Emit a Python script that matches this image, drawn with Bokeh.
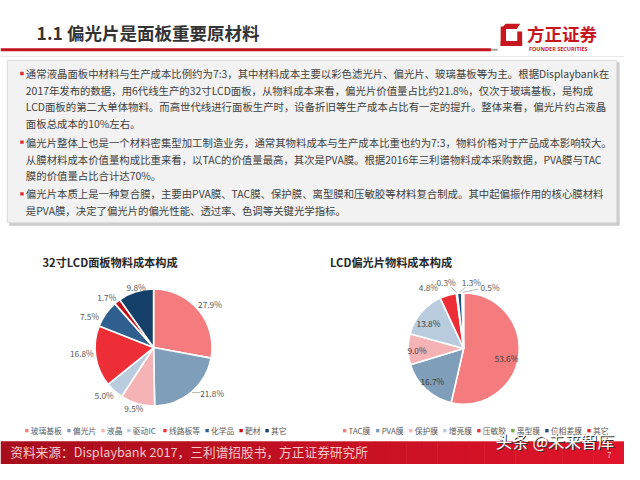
import numpy as np
from bokeh.plotting import figure
from bokeh.models import Range1d, ColumnDataSource
from bokeh.core.properties import value
from bokeh.embed import file_html
from bokeh.resources import INLINE

# ---------------- data ----------------
page_title = "1.1 偏光片是面板重要原材料"
body_lines = [
    "通常液晶面板中材料与生产成本比例约为7:3，其中材料成本主要以彩色滤光片、偏光片、玻璃基板等为主。根据Displaybank在",
    "2017年发布的数据，用6代线生产的32寸LCD面板，从物料成本来看，偏光片价值量占比约21.8%，仅次于玻璃基板，是构成",
    "LCD面板的第二大单体物料。而高世代线进行面板生产时，设备折旧等生产成本占比有一定的提升。整体来看，偏光片约占液晶",
    "面板总成本的10%左右。",
    "偏光片整体上也是一个材料密集型加工制造业务，通常其物料成本与生产成本比重也约为7:3，物料价格对于产品成本影响较大。",
    "从膜材料成本价值量构成比重来看，以TAC的价值量最高，其次是PVA膜。根据2016年三利谱物料成本采购数据，PVA膜与TAC",
    "膜的价值量占比合计达70%。",
    "偏光片本质上是一种复合膜，主要由PVA膜、TAC膜、保护膜、离型膜和压敏胶等材料复合制成。其中起偏振作用的核心膜材料",
    "是PVA膜，决定了偏光片的偏光性能、透过率、色调等关键光学指标。",
]
bullet_first = [True, False, False, False, True, False, False, True, False]

pie1_title = "32寸LCD面板物料成本构成"
pie1_labels = ["玻璃基板", "偏光片", "液晶", "驱动IC", "线路板等", "化学品", "靶材", "其它"]
pie1_values = [27.9, 21.8, 9.5, 5.0, 16.8, 7.5, 1.7, 9.8]

pie2_title = "LCD偏光片物料成本构成"
pie2_labels = ["TAC膜", "PVA膜", "保护膜", "增亮膜", "压敏胶", "离型膜", "位相差膜", "其它"]
pie2_values = [53.6, 16.7, 9.0, 13.8, 4.8, 0.3, 1.3, 0.5]

source_note = "资料来源：Displaybank 2017，三利谱招股书，方正证券研究所"
watermark = "头条 @未来智库"
page_no = "7"

# ---------------- styles / layout ----------------
pie1_colors = ["#F47B7E", "#7F9EB9", "#F6B3B5", "#B9CCDD", "#EE2E37", "#2F5F8E", "#C50F1A", "#133F68"]
pie2_colors = ["#F47B7E", "#7F9EB9", "#F6B3B5", "#B9CCDD", "#EE2E37", "#70AD47", "#1F4E79", "#E8262E"]
pie1_lab_f = [1.22, 1.27, 1.09, 1.18, 1.23, 1.22, 1.18, 1.09]
pie1_lab_shift = [2, -11.7, 2, 3.6, 4, -9, -4.4, 1.7]
pie1_leader = [False, True, False, False, False, False, False, False]
pie2_lab_f = [0.79, 0.81, 0.84, 0.78, 1.29, 1.25, 1.22, 1.22]
pie2_lab_shift = [6.3, 1, -1.7, -4.5, -13.2, -7.6, 10.7, 23.8]
pie2_leader = [False, False, False, False, False, True, True, True]

FONT = value("Noto Sans CJK SC")
W, H = 624, 464


def Y(y):
    return 480 - y


p = figure(width=W, height=H, x_range=Range1d(0, 640), y_range=Range1d(0, 480),
           output_backend="svg", toolbar_location=None, min_border=0,
           x_axis_type=None, y_axis_type=None)
p.grid.visible = False
p.outline_line_color = None
p.background_fill_color = "white"
p.border_fill_color = "white"

# ---------- header ----------
p.text(x=[37], y=[Y(33)], text=[page_title], text_font=FONT, text_font_size="17.5px",
       text_font_style="bold", text_color="#333333", text_baseline="middle", text_align="left")
p.quad(left=[0], right=[503], top=[Y(49.5)], bottom=[Y(52.5)], fill_color="#C3131F", line_color=None)
p.quad(left=[503], right=[510], top=[Y(50)], bottom=[Y(52)], fill_color="#A6A6A6", line_color=None)
p.segment(x0=[0], x1=[640], y0=[Y(58)], y1=[Y(58)], line_color="#E8E8E8", line_width=1)

# logo
logo_red = "#C8161E"
p.quad(left=[513], right=[518.5], top=[Y(27)], bottom=[Y(47)], fill_color=logo_red, line_color=None)
p.patch(x=[514, 518, 533, 529.5, 514], y=[Y(29), Y(24), Y(24), Y(29.5), Y(29.5)],
        fill_color=logo_red, line_color=None)
p.quad(left=[513], right=[535], top=[Y(42)], bottom=[Y(47)], fill_color=logo_red, line_color=None)
p.quad(left=[530], right=[535], top=[Y(32)], bottom=[Y(47)], fill_color=logo_red, line_color=None)
p.text(x=[540], y=[Y(34)], text=["方正证券"], text_font=FONT, text_font_size="17.5px",
       text_font_style="bold", text_color=logo_red, text_baseline="middle")
p.text(x=[542], y=[Y(50)], text=["FOUNDER SECURITIES"], text_font=value("Open Sans"),
       text_font_size="5.5px", text_font_style="bold", text_color=logo_red, text_baseline="middle")

# ---------- text box ----------
p.quad(left=[9], right=[635], top=[Y(64)], bottom=[Y(233)], fill_color="#BDBDBD", line_color=None, fill_alpha=0.8)
p.quad(left=[7], right=[632], top=[Y(62)], bottom=[Y(230)], fill_color="#F2F2F2", line_color="#DADADA")

line_y = [75.5, 93, 110, 127.5, 146.5, 164, 181, 200, 217]
p.text(x=[26] * len(body_lines), y=[Y(v) for v in line_y], text=body_lines, text_font=FONT,
       text_font_size="10.4px", text_color="#404040", text_baseline="middle", text_align="left")
bx = [22 for b in bullet_first if b]
by = [Y(v) for v, b in zip(line_y, bullet_first) if b]
p.scatter(x=bx, y=by, marker="square", size=3.4, fill_color="#E02A32", line_color=None)


# ---------- pies ----------
def draw_pie(cx, cy_ref, R, title, title_x, labels, vals, colors, lab_f, lab_shift, leader,
             inside_color, legend_x0):
    CY = Y(cy_ref)
    v = np.array(vals, dtype=float)
    frac = v / v.sum()
    cum = np.concatenate([[0.0], np.cumsum(frac)])
    t1 = cum[:-1] * 360.0
    t2 = cum[1:] * 360.0
    src = ColumnDataSource(dict(start=np.radians(90 - t2), end=np.radians(90 - t1), color=colors))
    p.wedge(x=cx, y=CY, radius=R, start_angle="start", end_angle="end", fill_color="color",
            line_color="white", line_width=1.6, source=src)
    mid = (t1 + t2) / 2.0
    la = np.radians(mid + np.array(lab_shift))
    rf = R * np.array(lab_f)
    lx = cx + rf * np.sin(la)
    ly = CY + rf * np.cos(la)
    txt = [f"{x:.1f}%" for x in vals]
    tcol = [inside_color if f < 1 else "#595959" for f in lab_f]
    p.text(x=list(lx), y=list(ly), text=txt, text_font=FONT, text_font_size="8.3px",
           text_color=tcol, text_align="center", text_baseline="middle")
    # leader lines
    x0s, y0s, x1s, y1s = [], [], [], []
    for i, on in enumerate(leader):
        if not on:
            continue
        m = np.radians(mid[i])
        ex = cx + (R + 1) * np.sin(m)
        ey = CY + (R + 1) * np.cos(m)
        vx, vy = ex - lx[i], ey - ly[i]
        t = min(12.0 / max(abs(vx), 1e-6), 5.5 / max(abs(vy), 1e-6))
        x0s.append(lx[i] + vx * t)
        y0s.append(ly[i] + vy * t)
        x1s.append(ex)
        y1s.append(ey)
    if x0s:
        p.segment(x0=x0s, y0=y0s, x1=x1s, y1=y1s, line_color="#A6A6A6", line_width=0.8)
    # title
    p.text(x=[title_x], y=[Y(270)], text=[title], text_font=FONT, text_font_size="11.2px",
           text_font_style="bold", text_color="#262626", text_baseline="middle")
    # legend
    xs = []
    x = legend_x0
    for lab in labels:
        xs.append(x)
        w = sum(5.2 if ord(c) < 128 else 8.3 for c in lab)
        x += 5 + w + 5
    p.scatter(x=xs, y=[Y(445)] * len(xs), marker="square", size=3.4, fill_color=colors, line_color=None)
    p.text(x=[v + 4 for v in xs], y=[Y(445)] * len(xs), text=labels, text_font=FONT,
           text_font_size="7.8px", text_color="#595959", text_baseline="middle", text_align="left")


draw_pie(157, 359, 60, pie1_title, 43, pie1_labels, pie1_values, pie1_colors,
         pie1_lab_f, pie1_lab_shift, pie1_leader, "#404040", 27)
draw_pie(475, 360, 57, pie2_title, 338, pie2_labels, pie2_values, pie2_colors,
         pie2_lab_f, pie2_lab_shift, pie2_leader, "#404040", 353)

# ---------- footer ----------
n = 40
edges = np.linspace(0, 640, n + 1)
c0 = np.array([0xA8, 0x0E, 0x1C])
c1 = np.array([0xE0, 0x14, 0x2A])
cols = []
for i in range(n):
    c = (c0 + (c1 - c0) * i / (n - 1)).astype(int)
    cols.append("#%02x%02x%02x" % tuple(c))
p.quad(left=edges[:-1], right=edges[1:] + 0.5, top=[Y(456)] * n, bottom=[Y(480)] * n,
       fill_color=cols, line_color=None)
p.text(x=[10], y=[Y(467)], text=[source_note], text_font=FONT, text_font_size="12.7px",
       text_color="#F6C8C8", text_baseline="middle")
p.text(x=[509], y=[Y(457)], text=[watermark], text_font=FONT, text_font_size="16.5px",
       text_color="#333333", text_baseline="middle")
p.text(x=[508], y=[Y(456)], text=[watermark], text_font=FONT, text_font_size="16.5px",
       text_color="white", text_baseline="middle")
p.text(x=[622], y=[Y(470)], text=[page_no], text_font=FONT, text_font_size="8px",
       text_color="#F0C0C0", text_baseline="middle")

open("out.html", "w").write(file_html(p, INLINE))
